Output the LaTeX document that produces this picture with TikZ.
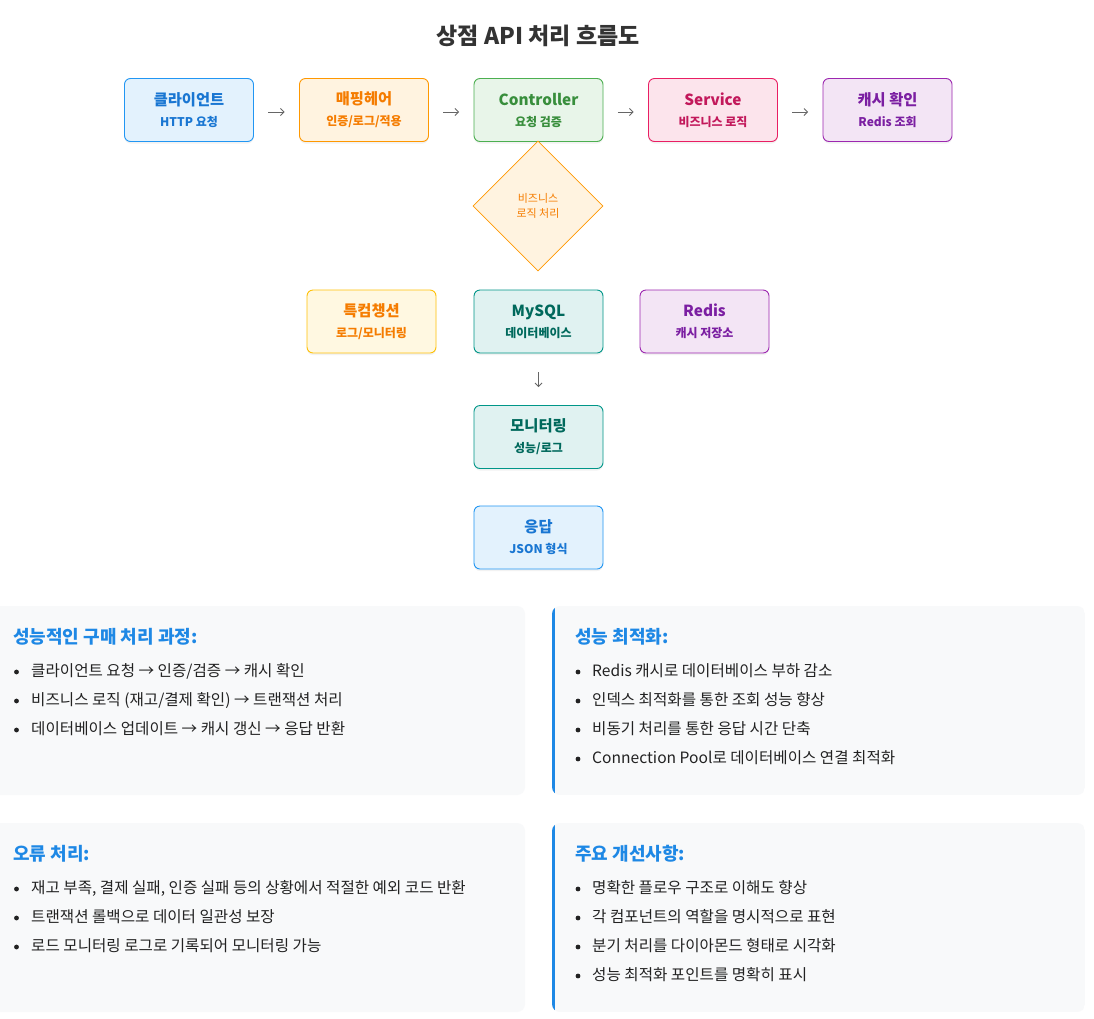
\documentclass[tikz,border=0pt]{standalone}
\usepackage{fontspec}
\setmainfont{Noto Sans CJK KR}
\usetikzlibrary{shapes.geometric,shadows,arrows.meta}
\definecolor{titlegray}{HTML}{333333}
\definecolor{arrowgray}{HTML}{666666}
\definecolor{bluefill}{HTML}{E3F2FD}\definecolor{blueline}{HTML}{2196F3}\definecolor{bluetext}{HTML}{1976D2}
\definecolor{orfill}{HTML}{FFF3E0}\definecolor{orline}{HTML}{FF9800}\definecolor{ortext}{HTML}{F57C00}
\definecolor{grfill}{HTML}{E8F5E9}\definecolor{grline}{HTML}{4CAF50}\definecolor{grtext}{HTML}{388E3C}
\definecolor{pkfill}{HTML}{FCE4EC}\definecolor{pkline}{HTML}{E91E63}\definecolor{pktext}{HTML}{C2185B}
\definecolor{pufill}{HTML}{F3E5F5}\definecolor{puline}{HTML}{9C27B0}\definecolor{putext}{HTML}{7B1FA2}
\definecolor{yefill}{HTML}{FFF8E1}\definecolor{yeline}{HTML}{FFC107}\definecolor{yetext}{HTML}{F57C00}
\definecolor{tefill}{HTML}{E0F2F1}\definecolor{teline}{HTML}{009688}\definecolor{tetext}{HTML}{00695C}
\definecolor{panelbg}{HTML}{F8F9FA}
\definecolor{accent}{HTML}{1E88E5}
\definecolor{bodytext}{HTML}{222222}
\newcommand\bxt[2]{{\fontsize{15.3}{21}\selectfont #1}\\{\fontsize{12}{21}\selectfont #2}}
\begin{document}
\begin{tikzpicture}[x=1pt,y=-1pt,
  flowbox/.style={draw, rounded corners=6pt, minimum width=129pt, minimum height=63pt,
    line width=0.9pt, align=center, inner sep=0pt,
    font=\fontsize{12}{21}\selectfont\bfseries,
    drop shadow={opacity=0.10, shadow xshift=0pt, shadow yshift=-2pt}},
  bluebox/.style={flowbox, fill=bluefill, draw=blueline, text=bluetext},
  orbox/.style={flowbox, fill=orfill, draw=orline, text=ortext},
  grbox/.style={flowbox, fill=grfill, draw=grline, text=grtext},
  pkbox/.style={flowbox, fill=pkfill, draw=pkline, text=pktext},
  pubox/.style={flowbox, fill=pufill, draw=puline, text=putext},
  yebox/.style={flowbox, fill=yefill, draw=yeline, text=yetext},
  tebox/.style={flowbox, fill=tefill, draw=teline, text=tetext},
  flowarrow/.style={draw=arrowgray, line width=0.8pt, -{Straight Barb[length=3.5pt,width=7pt]}},
  headtext/.style={anchor=base west, inner sep=0pt, text=accent, font=\fontsize{18}{21}\selectfont\bfseries},
  itemtext/.style={anchor=base west, inner sep=0pt, text=bodytext, font=\fontsize{15.6}{18}\selectfont},
  dot/.style={fill=bodytext}
]
\clip (0,0) rectangle (1094,1018);
\fill[white] (0,0) rectangle (1094,1018);

% title
\node[text=titlegray, font=\fontsize{23}{27}\selectfont\bfseries] (title) at (538,36) {상점 API 처리 흐름도};

% top row
\node[bluebox] (client) at (189,110) {\bxt{클라이언트}{HTTP 요청}};
\node[orbox]   (mapping) at (364,110) {\bxt{매핑헤어}{인증/로그/적용}};
\node[grbox]   (ctrl) at (538.5,110) {\bxt{Controller}{요청 검증}};
\node[pkbox]   (svc) at (713,110) {\bxt{Service}{비즈니스 로직}};
\node[pubox]   (cache) at (887.5,110) {\bxt{캐시 확인}{Redis 조회}};

\foreach \a/\b in {client/mapping, mapping/ctrl, ctrl/svc, svc/cache}
  \draw[flowarrow, shorten <=14.5pt, shorten >=14.5pt] ([yshift=-2pt]\a.east) -- ([yshift=-2pt]\b.west);

% diamond
\node[diamond, aspect=1, minimum width=130pt, minimum height=130pt, inner sep=0pt,
  fill=orfill, draw=orline, line width=0.8pt, text=ortext, align=center,
  font=\fontsize{11}{15}\selectfont] (biz) at (538,206) {비즈니스\\로직 처리};

% second row
\node[yebox] (trans) at (371.5,321.5) {\bxt{특컴챙션}{로그/모니터링}};
\node[tebox] (mysql) at (538.5,321.5) {\bxt{MySQL}{데이터베이스}};
\node[pubox] (redis) at (704.5,321.5) {\bxt{Redis}{캐시 저장소}};

\node[tebox] (monitor) at (538.5,437) {\bxt{모니터링}{성능/로그}};
\node[bluebox] (resp) at (538.5,537.5) {\bxt{응답}{JSON 형식}};

\draw[flowarrow, shorten <=19pt, shorten >=18pt] (mysql.south) -- (monitor.north);

% panels
\fill[panelbg, rounded corners=8pt] (-10,606) rectangle (525,795);
\begin{scope}
  \clip[rounded corners=8pt] (552,606) rectangle (1085,795);
  \fill[panelbg] (552,606) rectangle (1085,795);
  \fill[accent] (552,606) rectangle (555,795);
\end{scope}
\fill[panelbg, rounded corners=8pt] (-10,823) rectangle (525,1012);
\begin{scope}
  \clip[rounded corners=8pt] (552,823) rectangle (1085,1012);
  \fill[panelbg] (552,823) rectangle (1085,1012);
  \fill[accent] (552,823) rectangle (555,1012);
\end{scope}

% panel 1
\node[headtext] (h1) at (13,643.5) {성능적인 구매 처리 과정:};
\node[itemtext] (p1a) at (31,676.5) {클라이언트 요청 → 인증/검증 → 캐시 확인};
\node[itemtext] (p1b) at (31,705.5) {비즈니스 로직 (재고/결제 확인) → 트랜잭션 처리};
\node[itemtext] (p1c) at (31,734.5) {데이터베이스 업데이트 → 캐시 갱신 → 응답 반환};
\foreach \y in {672,701,730} \fill[dot] (16.5,\y) circle (2.4pt);

% panel 2
\node[headtext] (h2) at (575,643.5) {성능 최적화:};
\node[itemtext] (p2a) at (592,676.5) {Redis 캐시로 데이터베이스 부하 감소};
\node[itemtext] (p2b) at (592,705.5) {인덱스 최적화를 통한 조회 성능 향상};
\node[itemtext] (p2c) at (592,734.5) {비동기 처리를 통한 응답 시간 단축};
\node[itemtext] (p2d) at (592,763.5) {Connection Pool로 데이터베이스 연결 최적화};
\foreach \y in {672,701,730,759} \fill[dot] (578,\y) circle (2.4pt);

% panel 3
\node[headtext] (h3) at (13,860) {오류 처리:};
\node[itemtext] (p3a) at (31,893.5) {재고 부족, 결제 실패, 인증 실패 등의 상황에서 적절한 예외 코드 반환};
\node[itemtext] (p3b) at (31,922.5) {트랜잭션 롤백으로 데이터 일관성 보장};
\node[itemtext] (p3c) at (31,951.5) {로드 모니터링 로그로 기록되어 모니터링 가능};
\foreach \y in {889,918,947} \fill[dot] (16.5,\y) circle (2.4pt);

% panel 4
\node[headtext] (h4) at (575,860) {주요 개선사항:};
\node[itemtext] (p4a) at (592,893.5) {명확한 플로우 구조로 이해도 향상};
\node[itemtext] (p4b) at (592,922.5) {각 컴포넌트의 역할을 명시적으로 표현};
\node[itemtext] (p4c) at (592,951.5) {분기 처리를 다이아몬드 형태로 시각화};
\node[itemtext] (p4d) at (592,980.5) {성능 최적화 포인트를 명확히 표시};
\foreach \y in {889,918,947,976} \fill[dot] (578,\y) circle (2.4pt);
\end{tikzpicture}
\end{document}
